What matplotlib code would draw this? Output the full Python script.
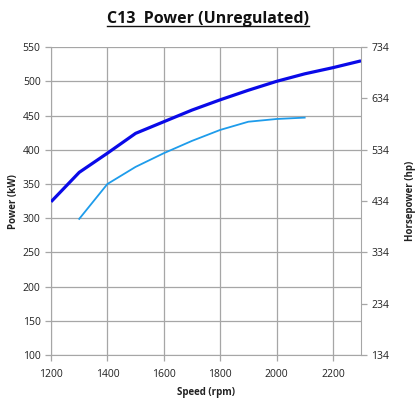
import matplotlib
matplotlib.use("Agg")
import matplotlib.pyplot as plt
from matplotlib.lines import Line2D

speed = [1200, 1300, 1400, 1500, 1600, 1700, 1800, 1900, 2000, 2100, 2200, 2300]
power_dark = [324, 367, 395, 424, 441, 458, 473, 487, 500, 511, 520, 530]
speed_light = [1300, 1400, 1500, 1600, 1700, 1800, 1900, 2000, 2100]
power_light = [299, 350, 375, 395, 413, 429, 441, 445, 447]
x_ticks = [1200, 1400, 1600, 1800, 2000, 2200]
y_ticks = [100, 150, 200, 250, 300, 350, 400, 450, 500, 550]
hp_ticks = [134, 234, 334, 434, 534, 634, 734]

plt.rcParams['font.family'] = ['Open Sans', 'DejaVu Sans']
fig = plt.figure(figsize=(4.15, 4.03), dpi=100)
ax = fig.add_axes([0.123, 0.119, 0.747, 0.764])
grid_c = '#A6A6A6'
text_c = '#222222'

ax.plot(speed, power_dark, color='#0A0AE8', lw=2.3, solid_capstyle='butt', zorder=3)
ax.plot(speed_light, power_light, color='#1E9CEB', lw=1.3, zorder=3)

ax.set_xlim(1200, 2300)
ax.set_ylim(100, 550)
ax.set_xticks(x_ticks)
ax.set_yticks(y_ticks)
ax.grid(True, color=grid_c, lw=0.9)
ax.set_axisbelow(True)
for s in ['left', 'bottom', 'right']:
    ax.spines[s].set_color(grid_c)
ax.spines['top'].set_visible(False)
ax.tick_params(axis='both', colors=grid_c, labelcolor=text_c, labelsize=7.5, length=4, width=0.9)
ax.tick_params(axis='x', pad=6)
ax.set_xlabel('Speed (rpm)', fontsize=7, fontweight='bold', color=text_c, labelpad=5)
ax.set_ylabel('Power (kW)', fontsize=7, fontweight='bold', color=text_c, labelpad=3)

ax2 = ax.twinx()
ax2.set_ylim(134, 734)
ax2.set_yticks(hp_ticks)
for s in ax2.spines.values():
    s.set_visible(False)
ax2.tick_params(axis='y', colors=grid_c, labelcolor=text_c, labelsize=7.5, length=4, width=0.9)
ax2.set_ylabel('Horsepower (hp)', fontsize=7, fontweight='bold', color=text_c, labelpad=11)

t = fig.text(0.5, 0.953, 'C13  Power (Unregulated)', ha='center', va='center',
             fontsize=11.5, fontweight='bold', color='#111111')
fig.canvas.draw()
bb = t.get_window_extent().transformed(fig.transFigure.inverted())
fig.add_artist(Line2D([bb.x0, bb.x1], [bb.y0 + 0.002, bb.y0 + 0.002], color='#111111', lw=1.0,
                      transform=fig.transFigure))

fig.savefig('out.png', dpi=100)
